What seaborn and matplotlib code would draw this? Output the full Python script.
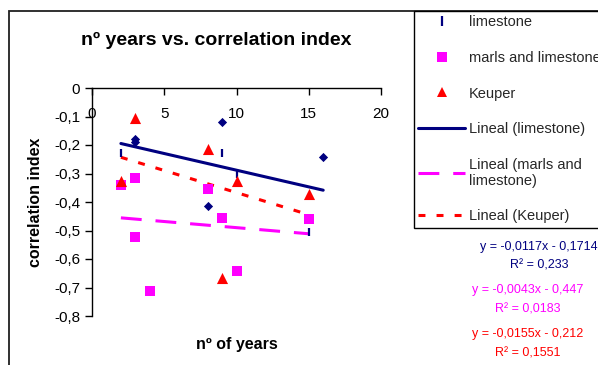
import matplotlib
matplotlib.use("Agg")
import matplotlib.pyplot as plt
from matplotlib.lines import Line2D
from matplotlib.patches import Rectangle
import seaborn as sns
import pandas as pd

# ---------------- data ----------------
series_names = ["limestone", "marls and limestone", "Keuper"]
series_colors = ["#000080", "#FF00FF", "#FF0000"]

limestone_x = [2, 3, 3, 8, 9, 9, 10, 15, 16]
limestone_y = [-0.227, -0.180, -0.188, -0.415, -0.118, -0.227, -0.300, -0.504, -0.241]
limestone_marker = ["|", "D", "D", "D", "D", "|", "|", "|", "D"]

marls_x = [2, 3, 3, 4, 8, 9, 10, 15]
marls_y = [-0.340, -0.317, -0.524, -0.711, -0.353, -0.457, -0.641, -0.458]

keuper_x = [2, 3, 8, 9, 10, 15]
keuper_y = [-0.325, -0.104, -0.213, -0.668, -0.325, -0.372]

trend_labels = ["Lineal (limestone)", "Lineal (marls and\nlimestone)", "Lineal (Keuper)"]
trend_slope = [-0.0117, -0.0043, -0.0155]
trend_intercept = [-0.1714, -0.447, -0.212]
trend_slope_txt = ["-0,0117", "-0,0043", "-0,0155"]
trend_intercept_txt = ["0,1714", "0,447", "0,212"]
trend_r2_txt = ["0,233", "0,0183", "0,1551"]

x_ticks = [0, 5, 10, 15, 20]
y_ticks = [0, -0.1, -0.2, -0.3, -0.4, -0.5, -0.6, -0.7, -0.8]
y_ticklabels = ["0", "-0,1", "-0,2", "-0,3", "-0,4", "-0,5", "-0,6", "-0,7", "-0,8"]

title = "nº years vs. correlation index"
xlabel = "nº of years"
ylabel = "correlation index"

# ---------------- style ----------------
sns.set_style("white")
plt.rcParams["font.family"] = ["Liberation Sans", "DejaVu Sans"]
plt.rcParams["lines.scale_dashes"] = False

W, H = 598, 365
fig = plt.figure(figsize=(W / 100, H / 100), dpi=100)
ax = fig.add_axes([92 / W, 1 - 316 / H, (381 - 92) / W, (316 - 88) / H])

navy, magenta, red = series_colors

lime_df = pd.DataFrame({"x": limestone_x, "y": limestone_y, "m": limestone_marker})
marls_df = pd.DataFrame({"x": marls_x, "y": marls_y})
keup_df = pd.DataFrame({"x": keuper_x, "y": keuper_y})

# limestone points (diamonds and dashes)
d = lime_df[lime_df.m == "D"]
sns.scatterplot(data=d, x="x", y="y", marker="D", color=navy, s=22,
                linewidth=0, ax=ax, legend=False, zorder=4)
d = lime_df[lime_df.m == "|"]
sns.scatterplot(data=d, x="x", y="y", marker="|", color=navy, s=40,
                linewidth=1.6, ax=ax, legend=False, zorder=4)
# marls and limestone
sns.scatterplot(data=marls_df, x="x", y="y", marker="s", color=magenta, s=52,
                linewidth=0, ax=ax, legend=False, zorder=4)
# Keuper
sns.scatterplot(data=keup_df, x="x", y="y", marker="^", color=red, s=64,
                linewidth=0, ax=ax, legend=False, zorder=4)

# trend lines from displayed equations
line_styles = ["-", (0, (15, 10)), (0, (5, 8))]
line_widths = [2.2, 2.2, 2.2]
for i, xs in enumerate([limestone_x, marls_x, keuper_x]):
    x0, x1 = min(xs), max(xs)
    tdf = pd.DataFrame({"x": [x0, x1],
                        "y": [trend_slope[i] * x0 + trend_intercept[i],
                              trend_slope[i] * x1 + trend_intercept[i]]})
    sns.lineplot(data=tdf, x="x", y="y", color=series_colors[i], ax=ax,
                 linestyle=line_styles[i], linewidth=line_widths[i],
                 legend=False, zorder=3)

ax.set_xlim(0, 20)
ax.set_ylim(-0.8, 0)
ax.set_xticks(x_ticks)
ax.set_xticklabels([str(v) for v in x_ticks])
ax.set_yticks(y_ticks)
ax.set_yticklabels(y_ticklabels)
ax.spines["top"].set_visible(False)
ax.spines["right"].set_visible(False)
ax.spines["bottom"].set_position(("data", 0))
for s in ["bottom", "left"]:
    ax.spines[s].set_color("black")
    ax.spines[s].set_linewidth(1.0)
ax.tick_params(axis="x", direction="out", length=5, width=1.0, pad=8.5,
               labelsize=11, colors="black", bottom=True)
ax.tick_params(axis="y", direction="out", length=5, width=1.0, pad=3.5,
               labelsize=11, colors="black", left=True)
ax.set_xlabel("")
ax.set_ylabel("")
ax.grid(False)

# labels
fig.text(216 / W, 1 - 40 / H, title, ha="center", va="center",
         fontsize=14, fontweight="bold", color="black")
fig.text(236.5 / W, 1 - 345 / H, xlabel, ha="center", va="center",
         fontsize=11.5, fontweight="bold", color="black")
fig.text(35 / W, 1 - 202 / H, ylabel, ha="center", va="center",
         fontsize=11.5, fontweight="bold", rotation=90, color="black")

# legend
handles = [
    Line2D([], [], linestyle="none", marker="|", color=navy, markersize=7, markeredgewidth=1.6),
    Line2D([], [], linestyle="none", marker="s", color=magenta, markersize=6.5, markeredgewidth=0),
    Line2D([], [], linestyle="none", marker="^", color=red, markersize=7, markeredgewidth=0),
    Line2D([], [], linestyle=line_styles[0], color=navy, linewidth=2.2),
    Line2D([], [], linestyle=line_styles[1], color=magenta, linewidth=2.2),
    Line2D([], [], linestyle=line_styles[2], color=red, linewidth=2.2),
]
labels = series_names + trend_labels
leg = fig.legend(handles, labels, loc="upper left",
                 bbox_to_anchor=(414 / W, 1 - 11 / H), bbox_transform=fig.transFigure,
                 borderaxespad=0, frameon=True, fancybox=False, framealpha=1,
                 edgecolor="black", fontsize=10.5, labelspacing=1.48,
                 handlelength=3.2, handletextpad=0.27, borderpad=0.3)
leg.get_frame().set_linewidth(1.0)

# equation texts
eq_pos = [(539, 247, 539, 265), (528, 290.5, 528, 309.5), (528, 334, 528, 353)]
for i in range(3):
    ex, ey, rx, ry = eq_pos[i]
    fig.text(ex / W, 1 - ey / H,
             f"y = {trend_slope_txt[i]}x - {trend_intercept_txt[i]}",
             ha="center", va="center", fontsize=9, color=series_colors[i])
    fig.text(rx / W, 1 - ry / H, f"R² = {trend_r2_txt[i]}",
             ha="center", va="center", fontsize=9, color=series_colors[i])

# outer chart border
fig.patches.append(Rectangle((9 / W, -0.1), 2, 1 - 11 / H + 0.1,
                             transform=fig.transFigure, fill=False,
                             edgecolor="#202020", linewidth=1.3, zorder=0))

fig.savefig("out.png", dpi=100)
